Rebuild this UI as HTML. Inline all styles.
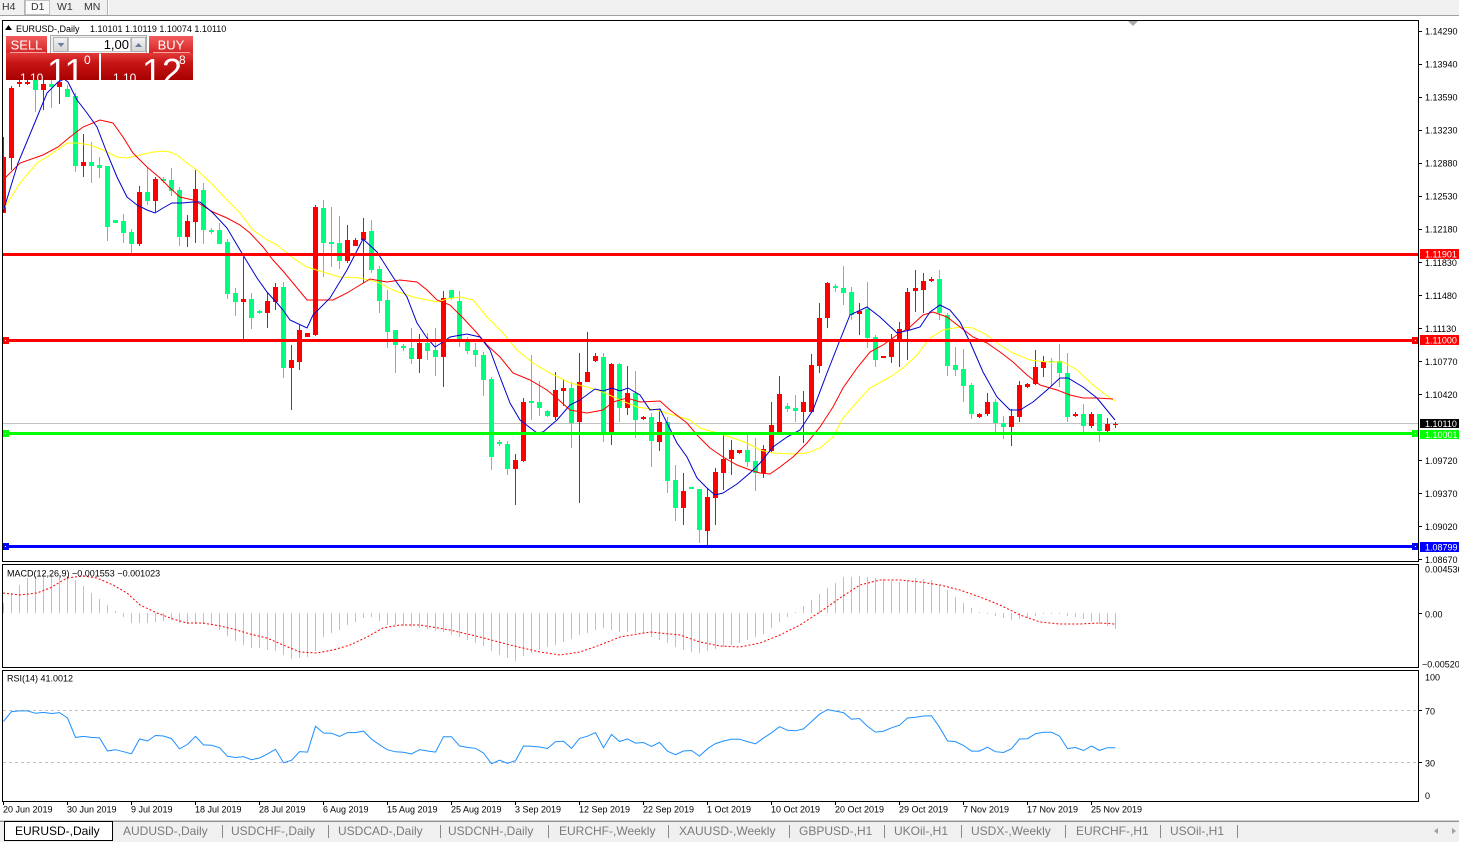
<!DOCTYPE html>
<html><head><meta charset="utf-8">
<style>
html,body{margin:0;padding:0;background:#fff;}
svg{display:block;}
text{font-family:"Liberation Sans",Arial,sans-serif;}
</style></head><body>
<svg id="s" width="1459" height="842" viewBox="0 0 1459 842" xmlns="http://www.w3.org/2000/svg">
<defs>
<clipPath id="cMain"><rect x="3" y="21" width="1415" height="541"/></clipPath>
<clipPath id="cMacd"><rect x="3" y="565" width="1415" height="103"/></clipPath>
<clipPath id="cRsi"><rect x="3" y="671" width="1415" height="130"/></clipPath>
<clipPath id="cSellPx"><rect x="6" y="53" width="93" height="27"/></clipPath>
<clipPath id="cBuyPx"><rect x="101" y="53" width="92" height="27"/></clipPath>
<linearGradient id="gBtn" x1="0" y1="0" x2="0" y2="1"><stop offset="0" stop-color="#f25c5c"/><stop offset="1" stop-color="#d42424"/></linearGradient>
<linearGradient id="gPx" x1="0" y1="0" x2="0" y2="1"><stop offset="0" stop-color="#e23a3a"/><stop offset="0.35" stop-color="#c81616"/><stop offset="1" stop-color="#a80000"/></linearGradient>
<linearGradient id="gSm" x1="0" y1="0" x2="0" y2="1"><stop offset="0" stop-color="#f4f4f4"/><stop offset="1" stop-color="#d4d4d4"/></linearGradient>
</defs>
<rect width="1459" height="842" fill="#fff"/>

<!-- toolbar -->
<rect x="0" y="0" width="1459" height="15" fill="#f0f0f0"/>
<line x1="0" y1="15.5" x2="1459" y2="15.5" stroke="#a0a0a0"/>
<rect x="25.5" y="0.5" width="24" height="14" fill="#fbfbfb" stroke="#c4c4c4"/>
<line x1="24.5" y1="0" x2="24.5" y2="15" stroke="#b4b4b4"/>
<line x1="107.5" y1="0" x2="107.5" y2="15" stroke="#b4b4b4"/>
<line x1="108.5" y1="0" x2="108.5" y2="15" stroke="#ffffff"/>
<g font-size="10.5" fill="#333">
<text x="2" y="10">H4</text>
<text x="31" y="10">D1</text>
<text x="57" y="10">W1</text>
<text x="84" y="10">MN</text>
</g>

<!-- pane borders -->
<rect x="2.5" y="20.5" width="1416" height="541" fill="#fff" stroke="#000"/>
<rect x="2.5" y="564.5" width="1416" height="103" fill="#fff" stroke="#000"/>
<rect x="2.5" y="670.5" width="1416" height="131" fill="#fff" stroke="#000"/>

<!-- main chart content -->
<g clip-path="url(#cMain)" shape-rendering="crispEdges">
<line x1="3" y1="423.5" x2="1418" y2="423.5" stroke="#c0c0c0"/>
<g id="candles"></g>
</g>
<g clip-path="url(#cMain)" id="mas"></g>
<g clip-path="url(#cMain)" shape-rendering="crispEdges">
<rect x="3" y="253" width="1415" height="3" fill="#ff0000"/>
<rect x="3" y="339" width="1415" height="3" fill="#ff0000"/>
<rect x="3" y="432" width="1415" height="3" fill="#00ff00"/>
<rect x="3" y="545" width="1415" height="3" fill="#0000ff"/>
<rect x="2" y="337" width="7" height="7" fill="#ff0000"/><rect x="5" y="340" width="1" height="1" fill="#fff"/>
<rect x="1412" y="337" width="6" height="7" fill="#ff0000"/><rect x="1415" y="340" width="1" height="1" fill="#fff"/>
<rect x="2" y="430" width="7" height="7" fill="#00ff00"/><rect x="5" y="433" width="1" height="1" fill="#fff"/>
<rect x="1412" y="430" width="6" height="7" fill="#00ff00"/><rect x="1415" y="433" width="1" height="1" fill="#fff"/>
<rect x="2" y="543" width="7" height="7" fill="#0000ff"/><rect x="5" y="546" width="1" height="1" fill="#fff"/>
<rect x="1412" y="543" width="6" height="7" fill="#0000ff"/><rect x="1415" y="546" width="1" height="1" fill="#fff"/>
</g>
<polygon points="1128,21 1138,21 1133,26" fill="#a8a8a8"/>

<!-- title -->
<polygon points="5,30 8.5,25 12,30" fill="#000"/>
<text x="16" y="32" font-size="9" fill="#000">EURUSD-,Daily</text>
<text x="90" y="32" font-size="9" fill="#000">1.10101 1.10119 1.10074 1.10110</text>

<!-- right price axis -->
<g stroke="#000" shape-rendering="crispEdges">
<line x1="1418" y1="31.5" x2="1422" y2="31.5"/>
<line x1="1418" y1="64.5" x2="1422" y2="64.5"/>
<line x1="1418" y1="97.5" x2="1422" y2="97.5"/>
<line x1="1418" y1="130.5" x2="1422" y2="130.5"/>
<line x1="1418" y1="163.5" x2="1422" y2="163.5"/>
<line x1="1418" y1="196.5" x2="1422" y2="196.5"/>
<line x1="1418" y1="229.5" x2="1422" y2="229.5"/>
<line x1="1418" y1="262.5" x2="1422" y2="262.5"/>
<line x1="1418" y1="295.5" x2="1422" y2="295.5"/>
<line x1="1418" y1="328.5" x2="1422" y2="328.5"/>
<line x1="1418" y1="361.5" x2="1422" y2="361.5"/>
<line x1="1418" y1="394.5" x2="1422" y2="394.5"/>
<line x1="1418" y1="460.5" x2="1422" y2="460.5"/>
<line x1="1418" y1="493.5" x2="1422" y2="493.5"/>
<line x1="1418" y1="526.5" x2="1422" y2="526.5"/>
<line x1="1418" y1="559.5" x2="1422" y2="559.5"/>
<line x1="1418" y1="613.5" x2="1422" y2="613.5"/>
<line x1="1418" y1="710.5" x2="1422" y2="710.5"/>
<line x1="1418" y1="762.5" x2="1422" y2="762.5"/>
</g>
<g font-size="9" fill="#000">
<text x="1425" y="34.5">1.14290</text>
<text x="1425" y="67.5">1.13940</text>
<text x="1425" y="100.5">1.13590</text>
<text x="1425" y="133.5">1.13230</text>
<text x="1425" y="166.5">1.12880</text>
<text x="1425" y="199.5">1.12530</text>
<text x="1425" y="232.5">1.12180</text>
<text x="1425" y="266">1.11830</text>
<text x="1425" y="299">1.11480</text>
<text x="1425" y="332">1.11130</text>
<text x="1425" y="365">1.10770</text>
<text x="1425" y="398">1.10420</text>
<text x="1425" y="464">1.09720</text>
<text x="1425" y="497">1.09370</text>
<text x="1425" y="530">1.09020</text>
<text x="1425" y="563">1.08670</text>
</g>
<g shape-rendering="crispEdges">
<rect x="1420" y="249" width="39" height="10" fill="#ff0000"/>
<rect x="1420" y="335" width="39" height="10" fill="#ff0000"/>
<rect x="1420" y="419" width="39" height="9" fill="#000"/>
<rect x="1420" y="430" width="39" height="9" fill="#00ff00"/>
<rect x="1420" y="542" width="39" height="10" fill="#0000ff"/>
</g>
<g font-size="9" fill="#fff">
<text x="1425" y="257.5">1.11901</text>
<text x="1425" y="343.5">1.11000</text>
<text x="1425" y="427">1.10110</text>
<text x="1425" y="438">1.10001</text>
<text x="1425" y="550.5">1.08799</text>
</g>

<!-- MACD pane -->
<g clip-path="url(#cMacd)" id="macd"></g>
<text x="7" y="576.5" font-size="9" fill="#000">MACD(12,26,9) −0.001553 −0.001023</text>
<g font-size="9" fill="#000">
<text x="1425" y="572.5">0.004536</text>
<text x="1425" y="617.5">0.00</text>
<text x="1422" y="667.5">−0.00520</text>
</g>

<!-- RSI pane -->
<g clip-path="url(#cRsi)">
<line x1="3" y1="710.5" x2="1418" y2="710.5" stroke="#c0c0c0" stroke-dasharray="3,3"/>
<line x1="3" y1="762.5" x2="1418" y2="762.5" stroke="#c0c0c0" stroke-dasharray="3,3"/>
<g id="rsi"></g>
</g>
<text x="7" y="681.5" font-size="9" fill="#000">RSI(14) 41.0012</text>
<g font-size="9" fill="#000">
<text x="1425" y="680.5">100</text>
<text x="1425" y="714.5">70</text>
<text x="1425" y="766.5">30</text>
<text x="1425" y="799">0</text>
</g>

<!-- date axis -->
<g stroke="#000" shape-rendering="crispEdges">
<line x1="3.5" y1="801" x2="3.5" y2="805"/><line x1="67.5" y1="801" x2="67.5" y2="805"/>
<line x1="131.5" y1="801" x2="131.5" y2="805"/><line x1="195.5" y1="801" x2="195.5" y2="805"/>
<line x1="259.5" y1="801" x2="259.5" y2="805"/><line x1="323.5" y1="801" x2="323.5" y2="805"/>
<line x1="387.5" y1="801" x2="387.5" y2="805"/><line x1="451.5" y1="801" x2="451.5" y2="805"/>
<line x1="515.5" y1="801" x2="515.5" y2="805"/><line x1="579.5" y1="801" x2="579.5" y2="805"/>
<line x1="643.5" y1="801" x2="643.5" y2="805"/><line x1="707.5" y1="801" x2="707.5" y2="805"/>
<line x1="771.5" y1="801" x2="771.5" y2="805"/><line x1="835.5" y1="801" x2="835.5" y2="805"/>
<line x1="899.5" y1="801" x2="899.5" y2="805"/><line x1="963.5" y1="801" x2="963.5" y2="805"/>
<line x1="1027.5" y1="801" x2="1027.5" y2="805"/><line x1="1091.5" y1="801" x2="1091.5" y2="805"/>
</g>
<g font-size="9" fill="#000">
<text x="3" y="812.5">20 Jun 2019</text>
<text x="67" y="812.5">30 Jun 2019</text>
<text x="131" y="812.5">9 Jul 2019</text>
<text x="195" y="812.5">18 Jul 2019</text>
<text x="259" y="812.5">28 Jul 2019</text>
<text x="323" y="812.5">6 Aug 2019</text>
<text x="387" y="812.5">15 Aug 2019</text>
<text x="451" y="812.5">25 Aug 2019</text>
<text x="515" y="812.5">3 Sep 2019</text>
<text x="579" y="812.5">12 Sep 2019</text>
<text x="643" y="812.5">22 Sep 2019</text>
<text x="707" y="812.5">1 Oct 2019</text>
<text x="771" y="812.5">10 Oct 2019</text>
<text x="835" y="812.5">20 Oct 2019</text>
<text x="899" y="812.5">29 Oct 2019</text>
<text x="963" y="812.5">7 Nov 2019</text>
<text x="1027" y="812.5">17 Nov 2019</text>
<text x="1091" y="812.5">25 Nov 2019</text>
</g>

<!-- tab bar -->
<rect x="0" y="821" width="1459" height="21" fill="#f0f0f0"/>
<line x1="0" y1="820.5" x2="1459" y2="820.5" stroke="#d0d0d0"/>
<line x1="0" y1="821.5" x2="1459" y2="821.5" stroke="#909090"/>
<rect x="4.5" y="821.5" width="108" height="19" fill="#fff" stroke="#000"/>
<text x="15" y="835" font-size="12" fill="#000">EURUSD-,Daily</text>
<g font-size="12" fill="#7a7a7a">
<text x="123" y="835">AUDUSD-,Daily</text>
<text x="231" y="835">USDCHF-,Daily</text>
<text x="338" y="835">USDCAD-,Daily</text>
<text x="448" y="835">USDCNH-,Daily</text>
<text x="559" y="835">EURCHF-,Weekly</text>
<text x="679" y="835">XAUUSD-,Weekly</text>
<text x="799" y="835">GBPUSD-,H1</text>
<text x="894" y="835">UKOil-,H1</text>
<text x="971" y="835">USDX-,Weekly</text>
<text x="1076" y="835">EURCHF-,H1</text>
<text x="1170" y="835">USOil-,H1</text>
</g>
<g stroke="#8a8a8a" shape-rendering="crispEdges">
<line x1="222.5" y1="825" x2="222.5" y2="838"/>
<line x1="328.5" y1="825" x2="328.5" y2="838"/>
<line x1="440.5" y1="825" x2="440.5" y2="838"/>
<line x1="548.5" y1="825" x2="548.5" y2="838"/>
<line x1="668.5" y1="825" x2="668.5" y2="838"/>
<line x1="789.5" y1="825" x2="789.5" y2="838"/>
<line x1="884.5" y1="825" x2="884.5" y2="838"/>
<line x1="961.5" y1="825" x2="961.5" y2="838"/>
<line x1="1065.5" y1="825" x2="1065.5" y2="838"/>
<line x1="1160.5" y1="825" x2="1160.5" y2="838"/>
<line x1="1237.5" y1="825" x2="1237.5" y2="838"/>
</g>
<polygon points="1438,828 1438,834 1434,831" fill="#a0a0a0"/>
<polygon points="1452,828 1452,834 1456,831" fill="#a0a0a0"/>

<!-- one click trading panel -->
<rect x="6" y="36" width="41" height="17" fill="url(#gBtn)"/>
<line x1="10" y1="52.5" x2="46" y2="52.5" stroke="#f7a0a0"/>
<text x="26.5" y="49.5" font-size="13" fill="#fff" text-anchor="middle">SELL</text>
<rect x="149" y="36" width="44" height="17" fill="url(#gBtn)"/>
<line x1="153" y1="52.5" x2="190" y2="52.5" stroke="#f7a0a0"/>
<text x="171" y="49.5" font-size="13" fill="#fff" text-anchor="middle">BUY</text>
<rect x="50.5" y="35.5" width="96" height="18" fill="#f0f0f0" stroke="#a8a8a8"/>
<rect x="53.5" y="37.5" width="14" height="14" fill="url(#gSm)" stroke="#b0b0b0"/>
<polygon points="57.5,43 64.5,43 61,47" fill="#6a7fa0"/>
<rect x="68.5" y="37.5" width="62" height="14" fill="#fff" stroke="#c8c8c8"/>
<text x="129" y="49" font-size="13" fill="#000" text-anchor="end">1,00</text>
<rect x="131.5" y="37.5" width="14" height="14" fill="url(#gSm)" stroke="#b0b0b0"/>
<polygon points="135,47 142,47 138.5,43" fill="#6a7fa0"/>
<g clip-path="url(#cSellPx)">
<rect x="6" y="53" width="93" height="27" fill="url(#gPx)"/>
<text x="20" y="82" font-size="12" fill="#fff">1.10</text>
<text x="47" y="84" font-size="36" fill="#fff">11</text>
<text x="84" y="64" font-size="12" fill="#fff">0</text>
</g>
<g clip-path="url(#cBuyPx)">
<rect x="101" y="53" width="92" height="27" fill="url(#gPx)"/>
<text x="113" y="82" font-size="12" fill="#fff">1.10</text>
<text x="142" y="84" font-size="36" fill="#fff">12</text>
<text x="179" y="64" font-size="12" fill="#fff">8</text>
</g>
</svg>

<script>
(function(){
var NS='http://www.w3.org/2000/svg';
function mk(t,a,p){var e=document.createElementNS(NS,t);for(var k in a)e.setAttribute(k,a[k]);p.appendChild(e);return e;}
function poly(pts,attrs,p){attrs.points=pts.map(function(q){return q[0]+','+q[1];}).join(' ');attrs.fill='none';return mk('polyline',attrs,p);}
var D=[[1,213,157,137,213],[1,158,88,86,170],[1,84,82,80,87],[1,84,82,80,85],[0,78,90,76,112],[1,90,84,78,110],[0,84,87,80,108],[1,87,82,78,104],[0,89,97,85,97],[0,96,166,93,172],
[1,166,162,134,177],[0,162,166,142,183],[0,165,168,157,178],[0,166,227,166,241],[0,220,223,220,223],[0,221,233,214,243],[0,232,244,229,253],[1,244,192,186,246],[0,192,201,167,205],[1,201,179,177,212],
[0,179,181,177,183],[0,180,191,168,196],[0,190,237,187,246],[1,237,221,215,247],[1,222,189,170,243],[0,190,230,183,244],[0,230,232,228,234],[0,230,244,223,244],[0,242,294,239,299],[0,293,302,288,316],
[1,302,299,257,339],[0,299,318,293,329],[0,311,313,310,314],[1,313,301,293,328],[1,302,287,283,310],[0,287,368,282,378],[1,368,360,345,410],[1,362,330,325,370],[1,337,333,333,337],[1,335,207,205,336],
[0,208,243,200,277],[0,242,244,207,267],[0,243,261,216,269],[1,261,240,225,263],[1,246,240,238,246],[1,240,232,218,283],[0,231,270,220,273],[0,269,301,266,313],[0,300,332,290,348],[0,330,345,330,373],
[0,346,348,344,351],[0,348,359,328,364],[1,359,343,334,373],[0,343,351,333,360],[0,350,357,328,376],[1,357,298,291,387],[0,290,298,290,300],[0,301,342,291,347],[0,342,351,337,354],[0,350,355,343,367],
[0,355,380,352,396],[0,379,457,377,470],[0,442,444,440,446],[0,444,469,441,475],[1,469,460,454,505],[1,461,402,398,462],[0,401,403,355,420],[0,402,408,381,416],[0,411,416,410,417],[1,417,390,372,420],
[1,391,388,379,406],[0,388,423,382,448],[1,422,382,353,503],[1,382,372,332,382],[1,361,356,353,362],[0,357,433,353,442],[1,433,364,363,445],[0,364,408,363,422],[1,408,393,366,415],[0,393,420,371,438],
[1,419,417,416,420],[0,417,441,413,467],[1,442,422,409,451],[0,422,481,417,493],[0,480,508,465,521],[1,508,491,473,525],[0,487,489,487,489],[0,489,530,489,543],[1,531,497,488,547],[1,498,472,468,525],
[1,473,459,435,490],[1,459,450,440,475],[1,453,450,450,454],[0,450,462,435,467],[0,461,473,438,491],[1,473,449,445,478],[1,451,425,402,452],[1,433,394,376,435],[0,406,409,403,412],[0,408,411,395,422],
[1,412,402,391,443],[1,412,365,354,413],[1,366,318,303,373],[1,318,283,282,328],[0,286,288,284,292],[0,288,293,266,305],[0,292,315,287,320],[1,314,311,303,335],[0,309,338,282,348],[0,337,360,335,367],
[1,358,356,356,358],[1,357,341,334,363],[1,342,329,322,367],[1,330,292,288,360],[1,291,288,270,312],[1,290,281,273,313],[1,281,279,277,282],[0,279,313,270,320],[0,315,366,313,376],[0,365,370,347,376],
[0,369,386,349,402],[0,385,414,383,419],[1,417,414,413,418],[1,414,402,393,416],[0,402,423,399,433],[0,423,427,416,439],[1,427,416,409,446],[1,417,385,381,422],[1,387,384,383,388],[1,384,367,350,385],
[1,368,362,356,377],[0,361,362,358,386],[0,361,373,344,387],[0,373,417,353,422],[1,416,414,412,417],[0,414,426,404,432],[1,426,414,412,428],[0,414,431,414,442],[1,431,424,418,432],[1,425,424,422,428]];

var gC=document.getElementById('candles');
D.forEach(function(d,k){
  var col=d[0]?'#ff0000':'#00ff7f';
  var x=8*k+3;
  mk('rect',{x:x,y:d[3],width:1,height:Math.max(1,d[4]-d[3]),fill:col},gC);
  var top=Math.min(d[1],d[2]),h=Math.max(1,Math.abs(d[1]-d[2]));
  mk('rect',{x:x-2,y:top,width:5,height:h,fill:col},gC);
});

var blue=[[3,212],[18,163],[33,127],[47,93],[58,82],[64,79],[68,82],[77,100],[87,113],[97,127],[107,153],[117,177],[127,197],[137,205],[147,210],[155,213],[163,208],[172,203],[182,203],[193,202],[200,202],[213,213],[227,228],[243,255],[257,278],[267,292],[277,303],[283,310],[290,320],[307,328],[313,315],[330,298],[347,270],[363,239],[377,252],[393,277],[407,297],[417,323],[427,338],[435,347],[443,342],[450,337],[467,334],[480,337],[490,350],[500,377],[510,403],[520,420],[537,433],[543,432],[557,420],[570,405],[580,400],[595,389],[603,391],[612,388],[620,391],[628,388],[640,395],[650,410],[660,409],[667,423],[677,443],[687,457],[697,478],[707,488],[715,495],[723,493],[737,484],[750,473],[760,463],[773,447],[787,437],[800,430],[813,410],[827,373],[840,340],[850,315],[867,307],[880,317],[897,333],[910,330],[920,327],[930,312],[940,305],[950,310],[960,322],[970,342],[983,372],[997,397],[1010,410],[1020,410],[1033,402],[1047,390],[1060,378],[1068,378],[1083,387],[1097,398],[1115,420]];
var red=[[3,180],[20,163],[43,155],[58,147],[70,137],[83,127],[100,120],[113,123],[123,137],[133,153],[147,167],[160,178],[170,188],[180,197],[193,200],[200,204],[213,212],[227,218],[240,225],[250,233],[263,247],[273,260],[283,271],[293,283],[307,300],[320,300],[333,300],[347,293],[360,285],[370,279],[387,282],[400,280],[417,282],[427,290],[437,300],[450,305],[463,318],[477,333],[487,345],[500,357],[513,373],[530,380],[547,390],[560,401],[570,410],[587,413],[603,410],[613,402],[627,398],[640,402],[660,401],[670,410],[687,423],[697,435],[710,448],[723,457],[737,465],[750,470],[760,473],[770,474],[780,467],[793,457],[807,443],[820,427],[833,407],[843,388],[857,368],[870,352],[883,345],[897,335],[910,327],[923,315],[933,312],[947,317],[960,327],[973,337],[987,343],[1000,352],[1013,362],[1027,375],[1040,385],[1057,390],[1070,395],[1083,398],[1097,398],[1113,399]];
var yel=[[3,210],[20,183],[37,163],[50,155],[67,143],[77,143],[90,145],[103,150],[117,157],[127,158],[140,155],[153,152],[167,151],[177,155],[187,163],[197,170],[213,185],[227,200],[240,213],[253,230],[267,240],[277,245],[287,253],[293,258],[307,267],[323,272],[340,277],[360,278],[377,282],[393,290],[413,297],[437,302],[447,299],[460,297],[473,300],[487,317],[503,333],[517,350],[533,363],[550,373],[570,383],[587,387],[603,392],[620,400],[637,407],[657,410],[673,415],[690,420],[700,428],[717,433],[733,438],[747,443],[760,450],[773,453],[793,454],[807,453],[820,448],[833,437],[843,418],[857,402],[870,388],[890,377],[903,368],[917,355],[930,338],[943,330],[960,327],[973,328],[987,335],[1000,345],[1013,353],[1030,360],[1047,362],[1063,362],[1077,370],[1093,385],[1110,398],[1115,401]];
var gM=document.getElementById('mas');
poly(yel,{stroke:'#ffff00','stroke-width':1},gM);
poly(red,{stroke:'#ff0000','stroke-width':1},gM);
poly(blue,{stroke:'#0000cd','stroke-width':1},gM);

// MACD histogram
var keys={0:603,1:593,2:585,3:578,4:576,5:573,6:574,7:575,8:576,9:580,10:586,11:593,12:599,13:605,14:611,15:617,16:623,17:623,18:623,19:622,20:621,21:620,22:623,23:624,24:624,25:624,26:625,27:630,28:636,29:641,30:645,31:648,32:648,33:650,34:651,35:655,36:659,37:658,38:657,39:651,40:637,41:633,42:630,43:625,44:622,45:618,46:617,47:621,48:625,49:625,52:628,55:632,57:637,60:646,62:655,64:661,65:656,67:650,70:642,72:635,75:628,77:632,80:633,82:640,85:650,87:653,90:647,92:643,95:634,97:622,99:612,101:600,103:588,105:577,107:576,109:578,112:582,114:578,116:580,118:590,120:603,122:612,124:616,126:620,128:618,130:614,132:614,134:617,136:621,138:626,139:629};
var ks=Object.keys(keys).map(Number).sort(function(a,b){return a-b;});
function hv(k){for(var i=0;i<ks.length-1;i++){var a=ks[i],b=ks[i+1];if(k>=a&&k<=b){return keys[a]+(keys[b]-keys[a])*(k-a)/(b-a);}}return keys[ks[ks.length-1]];}
var gMa=document.getElementById('macd');
for(var k=0;k<140;k++){
  var y=Math.round(hv(k));var z=613;
  var t=Math.min(y,z),h=Math.max(1,Math.abs(y-z));
  mk('rect',{x:8*k+3,y:t,width:1,height:h,fill:'#c0c0c0','shape-rendering':'crispEdges'},gMa);
}
var sig=[[3,593],[20,595],[37,593],[50,588],[67,578],[83,576],[97,578],[113,585],[127,593],[140,605],[157,613],[173,619],[187,623],[203,623],[220,626],[233,629],[250,634],[267,638],[283,645],[300,652],[317,653],[333,650],[350,645],[367,637],[383,628],[400,625],[420,625],[450,630],[480,637],[510,645],[540,652],[560,655],[580,652],[600,645],[620,637],[650,632],[680,635],[700,642],[720,646],[740,647],[760,643],[780,635],[800,625],[820,612],[840,598],[860,585],[880,580],[900,580],[920,582],[940,585],[960,590],[980,597],[1000,605],[1020,615],[1040,622],[1060,624],[1080,624],[1100,623],[1115,624]];
poly(sig,{stroke:'#ff0000','stroke-width':1,'stroke-dasharray':'2,2'},gMa);

// RSI computed
var prev=213,ag=10,al=9,pts=[];
D.forEach(function(d,k){var c=d[2];var ch=prev-c;var g=ch>0?ch:0,l=ch<0?-ch:0;ag=(ag*13+g)/14;al=(al*13+l)/14;var r=al===0?100:100-100/(1+ag/al);pts.push([8*k+3.5,(801.3-r*1.3).toFixed(1)]);prev=c;});
poly(pts,{stroke:'#1e90ff','stroke-width':1},document.getElementById('rsi'));
})();
</script>
</body></html>
